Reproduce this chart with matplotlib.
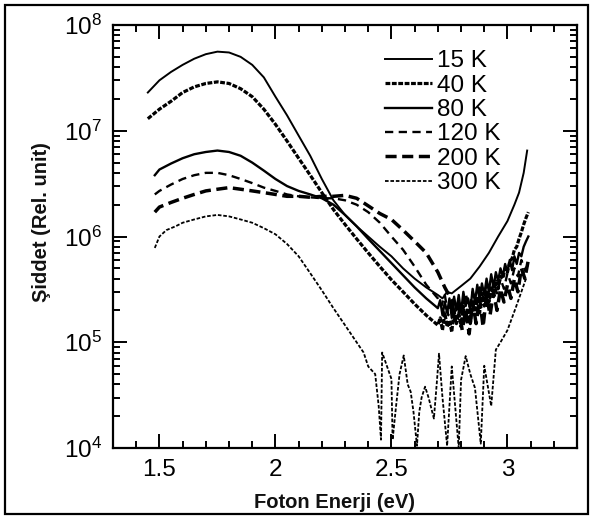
import numpy as np
import matplotlib.pyplot as plt
from matplotlib.ticker import MultipleLocator, LogLocator, FuncFormatter, NullFormatter
from matplotlib.patches import Rectangle

plt.rcParams['font.family'] = ['Liberation Sans', 'DejaVu Sans']
plt.rcParams['mathtext.fontset'] = 'custom'
plt.rcParams['mathtext.rm'] = 'Liberation Sans'
plt.rcParams['mathtext.default'] = 'regular'

# photon energy (eV) / intensity
x_15 = [1.45, 1.50, 1.55, 1.60, 1.65, 1.70, 1.75, 1.80, 1.85, 1.90, 1.95, 2.00, 2.05,
        2.10, 2.15, 2.20, 2.25, 2.30, 2.35, 2.40, 2.45, 2.50, 2.55, 2.60, 2.65, 2.70,
        2.72, 2.74, 2.76, 2.80, 2.84, 2.88, 2.92, 2.96, 3.00, 3.03, 3.05, 3.07, 3.085]
y_15 = [2.3e7, 3.0e7, 3.6e7, 4.2e7, 4.8e7, 5.3e7, 5.6e7, 5.5e7, 5.0e7, 4.2e7, 3.2e7, 2.1e7, 1.4e7,
        9.0e6, 5.8e6, 3.5e6, 2.2e6, 1.6e6, 1.25e6, 1.0e6, 8.0e5, 6.5e5, 5.0e5, 4.0e5, 3.3e5, 2.8e5,
        2.6e5, 3.0e5, 2.9e5, 3.4e5, 4.0e5, 5.2e5, 7.0e5, 1.0e6, 1.4e6, 2.0e6, 2.6e6, 4.0e6, 6.5e6]

x_40 = [1.45, 1.50, 1.55, 1.60, 1.65, 1.70, 1.75, 1.80, 1.85, 1.90, 1.95, 2.00, 2.05,
        2.10, 2.15, 2.20, 2.25, 2.30, 2.35, 2.40, 2.45, 2.50, 2.55, 2.60, 2.65,
        2.70, 2.71, 2.72, 2.73, 2.74, 2.75, 2.76, 2.77, 2.78, 2.79, 2.80, 2.81, 2.82,
        2.83, 2.84, 2.85, 2.86, 2.87, 2.88, 2.89, 2.90, 2.91, 2.92, 2.93, 2.94, 2.95,
        2.96, 2.97, 2.98, 2.99, 3.00, 3.01, 3.02, 3.03, 3.04, 3.05, 3.06, 3.07, 3.08, 3.09]
y_40 = [1.3e7, 1.6e7, 1.9e7, 2.3e7, 2.6e7, 2.8e7, 2.9e7, 2.8e7, 2.5e7, 2.1e7, 1.6e7, 1.15e7, 8.0e6,
        5.5e6, 3.8e6, 2.6e6, 1.8e6, 1.3e6, 9.5e5, 7.0e5, 5.2e5, 3.9e5, 3.0e5, 2.3e5, 1.8e5,
        1.45e5, 1.7e5, 1.3e5, 1.9e5, 1.4e5, 1.6e5, 1.25e5, 2.0e5, 1.5e5, 1.9e5, 1.4e5, 2.2e5, 1.6e5,
        2.1e5, 1.5e5, 2.5e5, 1.8e5, 2.6e5, 1.9e5, 2.9e5, 2.2e5, 3.0e5, 2.4e5, 3.4e5, 2.7e5, 3.8e5,
        3.2e5, 4.2e5, 4.0e5, 5.0e5, 4.6e5, 5.8e5, 6.2e5, 7.5e5, 8.0e5, 9.5e5, 1.1e6, 1.3e6, 1.5e6, 1.7e6]

x_80 = [1.48, 1.50, 1.55, 1.60, 1.65, 1.70, 1.75, 1.80, 1.85, 1.90, 1.95, 2.00, 2.05,
        2.10, 2.15, 2.20, 2.25, 2.30, 2.35, 2.40, 2.45, 2.50, 2.55, 2.60, 2.65,
        2.70, 2.71, 2.72, 2.73, 2.74, 2.75, 2.76, 2.77, 2.78, 2.79, 2.80, 2.81, 2.82,
        2.83, 2.84, 2.85, 2.86, 2.87, 2.88, 2.89, 2.90, 2.91, 2.92, 2.93, 2.94, 2.95,
        2.96, 2.97, 2.98, 2.99, 3.00, 3.01, 3.02, 3.03, 3.04, 3.05, 3.06, 3.07, 3.08, 3.09]
y_80 = [3.8e6, 4.3e6, 4.9e6, 5.5e6, 6.0e6, 6.3e6, 6.5e6, 6.3e6, 5.8e6, 5.0e6, 4.2e6, 3.5e6, 3.0e6,
        2.7e6, 2.5e6, 2.3e6, 2.0e6, 1.6e6, 1.25e6, 9.5e5, 7.3e5, 5.6e5, 4.3e5, 3.3e5, 2.6e5,
        2.1e5, 2.5e5, 1.8e5, 2.4e5, 1.9e5, 2.6e5, 1.7e5, 2.7e5, 2.0e5, 2.8e5, 1.9e5, 3.0e5, 2.2e5,
        2.6e5, 2.0e5, 3.2e5, 2.4e5, 3.5e5, 2.5e5, 3.6e5, 2.8e5, 4.0e5, 3.0e5, 4.4e5, 3.3e5, 4.6e5,
        3.8e5, 5.0e5, 4.2e5, 5.5e5, 4.6e5, 6.0e5, 4.8e5, 6.5e5, 5.5e5, 7.0e5, 6.5e5, 8.0e5, 9.0e5, 1.0e6]

x_120 = [1.48, 1.50, 1.55, 1.60, 1.65, 1.70, 1.75, 1.80, 1.85, 1.90, 1.95, 2.00, 2.05,
         2.10, 2.15, 2.20, 2.25, 2.30, 2.35, 2.40, 2.45, 2.50, 2.55, 2.60, 2.65,
         2.70, 2.715, 2.73, 2.745, 2.76, 2.775, 2.79, 2.805, 2.82, 2.835, 2.85, 2.865,
         2.88, 2.895, 2.91, 2.925, 2.94, 2.955, 2.97, 2.985, 3.00, 3.015, 3.03, 3.045,
         3.06, 3.075, 3.09]
y_120 = [2.5e6, 2.7e6, 3.1e6, 3.5e6, 3.8e6, 4.0e6, 4.0e6, 3.8e6, 3.5e6, 3.2e6, 2.9e6, 2.7e6, 2.5e6,
         2.4e6, 2.35e6, 2.3e6, 2.3e6, 2.2e6, 2.0e6, 1.7e6, 1.35e6, 1.0e6, 7.5e5, 5.2e5, 3.5e5,
         2.6e5, 2.2e5, 2.8e5, 1.8e5, 2.5e5, 1.6e5, 2.4e5, 1.9e5, 2.9e5, 2.1e5, 3.0e5, 2.3e5,
         3.3e5, 2.5e5, 3.5e5, 2.6e5, 3.7e5, 2.9e5, 4.0e5, 3.2e5, 4.5e5, 3.6e5, 5.0e5, 4.2e5,
         6.0e5, 4.8e5, 5.5e5]

x_200 = [1.48, 1.50, 1.55, 1.60, 1.65, 1.70, 1.75, 1.80, 1.85, 1.90, 1.95, 2.00, 2.05,
         2.10, 2.15, 2.20, 2.25, 2.30, 2.35, 2.40, 2.45, 2.50, 2.55, 2.60, 2.65, 2.70,
         2.73, 2.76, 2.775, 2.79, 2.805, 2.82, 2.835, 2.85, 2.865, 2.88, 2.895, 2.91,
         2.925, 2.94, 2.955, 2.97, 2.985, 3.00, 3.015, 3.03, 3.045, 3.06, 3.075, 3.09]
y_200 = [1.7e6, 1.9e6, 2.1e6, 2.3e6, 2.5e6, 2.7e6, 2.8e6, 2.9e6, 2.8e6, 2.7e6, 2.6e6, 2.5e6, 2.4e6,
         2.4e6, 2.35e6, 2.4e6, 2.4e6, 2.45e6, 2.3e6, 1.95e6, 1.65e6, 1.45e6, 1.15e6, 9.0e5, 7.0e5, 4.6e5,
         3.3e5, 2.5e5, 1.6e5, 2.2e5, 1.3e5, 2.0e5, 1.2e5, 2.4e5, 1.5e5, 2.6e5, 1.4e5, 2.8e5,
         1.8e5, 3.0e5, 2.0e5, 3.2e5, 2.4e5, 3.5e5, 2.6e5, 4.0e5, 3.0e5, 5.0e5, 4.0e5, 6.0e5]

x_300 = [1.48, 1.50, 1.53, 1.57, 1.60, 1.65, 1.70, 1.75, 1.80, 1.85, 1.90, 1.95, 2.00,
         2.05, 2.10, 2.15, 2.20, 2.25, 2.30, 2.35, 2.38, 2.40, 2.43, 2.445, 2.455, 2.46,
         2.48, 2.50, 2.505, 2.52, 2.535, 2.553, 2.57, 2.583, 2.595, 2.61, 2.62, 2.63,
         2.645, 2.66, 2.683, 2.695, 2.705, 2.72, 2.74, 2.76, 2.79, 2.80, 2.82, 2.84,
         2.86, 2.885, 2.90, 2.93, 2.95, 2.97, 3.00, 3.035, 3.06, 3.08]
y_300 = [7.8e5, 1.0e6, 1.15e6, 1.25e6, 1.35e6, 1.45e6, 1.55e6, 1.6e6, 1.55e6, 1.45e6, 1.35e6, 1.2e6, 1.05e6,
         8.5e5, 6.5e5, 4.5e5, 3.1e5, 2.1e5, 1.45e5, 1.0e5, 8.0e4, 5.9e4, 5.0e4, 2.5e4, 1.2e4, 8.0e4,
         6.0e4, 4.5e4, 1.2e4, 2.5e4, 5.0e4, 7.5e4, 4.0e4, 3.4e4, 2.2e4, 1.05e4, 2.2e4, 3.0e4,
         3.8e4, 3.0e4, 1.9e4, 4.0e4, 7.8e4, 3.0e4, 1.05e4, 5.9e4, 1.0e4, 4.4e4, 7.4e4, 5.0e4,
         3.7e4, 1.1e4, 6.0e4, 2.5e4, 8.5e4, 1.0e5, 1.3e5, 2.1e5, 3.0e5, 4.0e5]

labels = ['15 K', '40 K', '80 K', '120 K', '200 K', '300 K']

fig = plt.figure(figsize=(5.93, 5.18), dpi=100)
ax = fig.add_axes([0.1906, 0.1351, 0.7825, 0.8166])

ax.plot(x_15, y_15, color='black', lw=1.4, ls='-', label=labels[0])
ax.plot(x_40, y_40, color='black', lw=2.3, ls=(0, (1.5, 0.5)), label=labels[1])
ax.plot(x_80, y_80, color='black', lw=1.7, ls='-', label=labels[2])
ax.plot(x_120, y_120, color='black', lw=1.7, ls=(0, (3.5, 2.3)), label=labels[3])
ax.plot(x_200, y_200, color='black', lw=2.5, ls=(0, (3.2, 1.6)), label=labels[4])
ax.plot(x_300, y_300, color='black', lw=1.3, ls=(0, (2, 1)), label=labels[5])

ax.set_yscale('log')
ax.set_xlim(1.3, 3.3)
ax.set_ylim(1e4, 1e8)

ax.xaxis.set_major_locator(MultipleLocator(0.5))
ax.xaxis.set_minor_locator(MultipleLocator(0.1))
ax.xaxis.set_major_formatter(FuncFormatter(lambda v, p: ('%g' % v)))
ax.yaxis.set_major_locator(LogLocator(base=10, numticks=10))
ax.yaxis.set_minor_locator(LogLocator(base=10, subs=np.arange(2, 10), numticks=20))
ax.yaxis.set_minor_formatter(NullFormatter())
ax.yaxis.set_major_formatter(FuncFormatter(lambda v, p: r'$10^{%d}$' % round(np.log10(v))))

ax.tick_params(which='both', direction='in', top=True, right=True, width=1.4, labelsize=17.5)
ax.tick_params(which='major', length=10, pad=8)
ax.tick_params(which='minor', length=5)
for s in ax.spines.values():
    s.set_linewidth(1.6)

ax.set_xlabel('Foton Enerji (eV)', fontsize=14.5, fontweight='bold', color='#111111')
ax.set_ylabel('Şiddet (Rel. unit)', fontsize=14.5, fontweight='bold', color='#111111')
ax.xaxis.set_label_coords(0.478, -0.107)
ax.yaxis.set_label_coords(-0.133, 0.535)

ax.legend(loc='upper left', bbox_to_anchor=(0.586, 0.94), frameon=False, fontsize=17.5,
          handlelength=1.95, handletextpad=0.2, labelspacing=0.095, borderpad=0,
          borderaxespad=0)

fig.patches.append(Rectangle((0.009, 0.008), 0.982, 0.983, transform=fig.transFigure,
                             fill=False, edgecolor='black', lw=1.6))

fig.savefig('out.png', dpi=100)
